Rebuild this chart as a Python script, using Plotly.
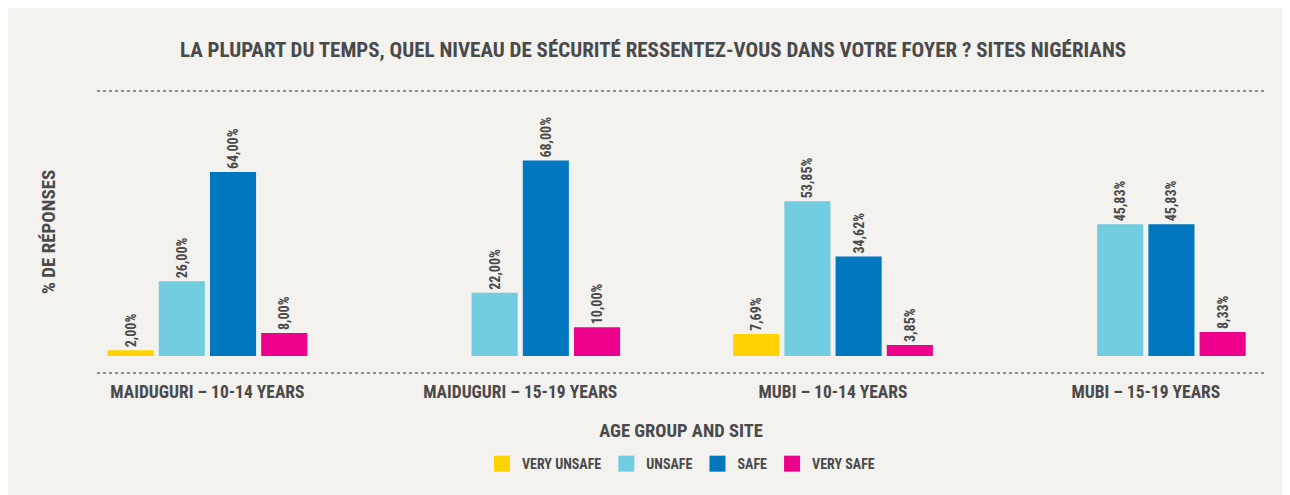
import plotly.graph_objects as go

categories = ["MAIDUGURI – 10-14 YEARS", "MAIDUGURI – 15-19 YEARS", "MUBI – 10-14 YEARS", "MUBI – 15-19 YEARS"]
series_names = ["VERY UNSAFE", "UNSAFE", "SAFE", "VERY SAFE"]
very_unsafe = [2.00, None, 7.69, None]
unsafe = [26.00, 22.00, 53.85, 45.83]
safe = [64.00, 68.00, 34.62, 45.83]
very_safe = [8.00, 10.00, 3.85, 8.33]
colors = ["#FFD200", "#72CDE0", "#0077BE", "#EC008C"]

FONT = "Liberation Sans Narrow, Roboto Condensed, DejaVu Sans Condensed, sans-serif"
TXT = "#4a4a4a"
BG = "#F3F2EE"

def fmt(v):
    return "" if v is None else f"{v:.2f}".replace(".", ",") + "%"

fig = go.Figure()
for name, vals, col in zip(series_names, [very_unsafe, unsafe, safe, very_safe], colors):
    fig.add_trace(go.Bar(
        x=categories, y=vals, name=name, marker_color=col, marker_line_width=0,
        text=[fmt(v) for v in vals], textposition="outside", textangle=-90,
        textfont=dict(family=FONT, size=14, color=TXT, weight="bold"), cliponaxis=False,
        showlegend=False, legendgroup=name,
    ))
for name, col in zip(series_names, colors):
    fig.add_trace(go.Scatter(
        x=[None], y=[None], mode="markers", name=name, legendgroup=name,
        marker=dict(symbol="square", size=16, color=col, line_width=0),
    ))

fig.update_layout(
    width=1290, height=495,
    paper_bgcolor=BG, plot_bgcolor=BG,
    margin=dict(l=89, r=33, t=83, b=130),
    barmode="group", bargap=0.345, bargroupgap=0.1,
    title=dict(text="LA PLUPART DU TEMPS, QUEL NIVEAU DE SÉCURITÉ RESSENTEZ-VOUS DANS VOTRE FOYER ? SITES NIGÉRIANS",
               x=0.5, xanchor="center", y=0.915, yanchor="middle",
               font=dict(family=FONT, size=21, color=TXT, weight="bold")),
    xaxis=dict(range=[-0.353, 3.381], showgrid=False, zeroline=False, showline=False, ticks="",
               tickfont=dict(family=FONT, size=17.5, color=TXT, weight="bold"), ticklabelstandoff=6,
               title=dict(text="AGE GROUP AND SITE", font=dict(family=FONT, size=18.5, color=TXT, weight="bold"), standoff=23)),
    yaxis=dict(range=[-5.91, 92.2], showgrid=False, zeroline=False, showline=False, showticklabels=False, ticks="",
               title=dict(text="% DE RÉPONSES", font=dict(family=FONT, size=19, color=TXT, weight="bold"), standoff=35)),
    legend=dict(orientation="h", x=0.5, xanchor="center", y=-0.323, yanchor="middle",
                font=dict(family=FONT, size=14, color=TXT, weight="bold"), bgcolor="rgba(0,0,0,0)",
                itemwidth=30, traceorder="normal"),
    font=dict(family=FONT, color=TXT),
    shapes=[
        dict(type="line", xref="paper", yref="paper", x0=0, x1=1, y0=1, y1=1,
             line=dict(color="#8a8a8a", width=2, dash="dot")),
        dict(type="line", xref="paper", yref="paper", x0=0, x1=1, y0=0, y1=0,
             line=dict(color="#8a8a8a", width=2, dash="dot")),
    ],
)

fig.write_html("out.html")
